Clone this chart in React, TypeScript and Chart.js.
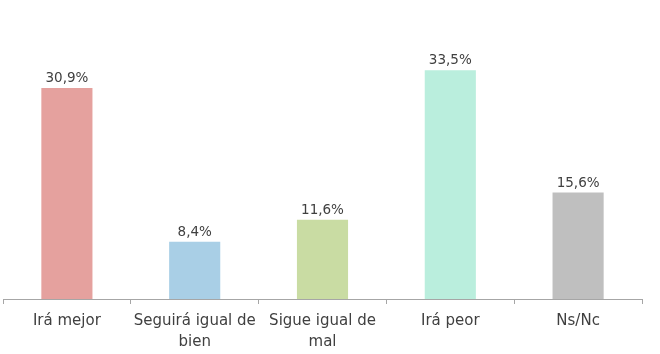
import React, { useEffect, useRef } from "react";
import { Chart, registerables } from "chart.js";

Chart.register(...registerables);

const categories: (string | string[])[] = [
  "Irá mejor",
  ["Seguirá igual de", "bien"],
  ["Sigue igual de", "mal"],
  "Irá peor",
  "Ns/Nc",
];
const values = [30.9, 8.4, 11.6, 33.5, 15.6];
const valueLabels = ["30,9%", "8,4%", "11,6%", "33,5%", "15,6%"];
const barColors = ["#E5A19E", "#A9CFE6", "#C9DCA3", "#BAEEDD", "#BFBFBF"];

const FONT = "'DejaVu Sans', sans-serif";
const TEXT_COLOR = "#404040";
const AXIS_COLOR = "#A6A6A6";

const valueLabelPlugin = {
  id: "valueLabels",
  afterDatasetsDraw(chart: any) {
    const ctx = chart.ctx;
    const meta = chart.getDatasetMeta(0);
    ctx.save();
    ctx.font = `13.5px ${FONT}`;
    ctx.fillStyle = TEXT_COLOR;
    ctx.textAlign = "center";
    ctx.textBaseline = "alphabetic";
    meta.data.forEach((bar: any, i: number) => {
      ctx.fillText(valueLabels[i], bar.x, bar.y - 6);
    });
    ctx.restore();
  },
};

export default function App() {
  const ref = useRef<HTMLCanvasElement>(null);
  useEffect(() => {
    document.body.style.margin = "0";
    const chart = new Chart(ref.current!, {
      type: "bar",
      data: {
        labels: categories as any,
        datasets: [
          {
            data: values,
            backgroundColor: barColors,
            borderWidth: 0,
            barPercentage: 0.4,
            categoryPercentage: 1,
          },
        ],
      },
      options: {
        animation: false,
        responsive: false,
        layout: { padding: { top: 26, left: 3, right: 18, bottom: 0 } },
        plugins: { legend: { display: false }, tooltip: { enabled: false } },
        scales: {
          x: {
            offset: true,
            grid: {
              offset: true,
              drawOnChartArea: false,
              drawTicks: true,
              tickLength: 5,
              color: AXIS_COLOR,
            },
            border: { display: true, color: AXIS_COLOR, width: 1 },
            ticks: {
              color: TEXT_COLOR,
              font: { family: FONT, size: 15, lineHeight: 1.4 },
              padding: 7,
              maxRotation: 0,
              autoSkip: false,
            },
            afterFit: (scale: any) => {
              scale.height = 55;
            },
          },
          y: {
            display: false,
            min: 0,
            max: 40,
          },
        },
      },
      plugins: [valueLabelPlugin],
    });
    return () => chart.destroy();
  }, []);
  return (
    <div style={{ position: "absolute", left: 0, top: 0 }}>
      <canvas ref={ref} width={660} height={354} style={{ display: "block" }} />
    </div>
  );
}
